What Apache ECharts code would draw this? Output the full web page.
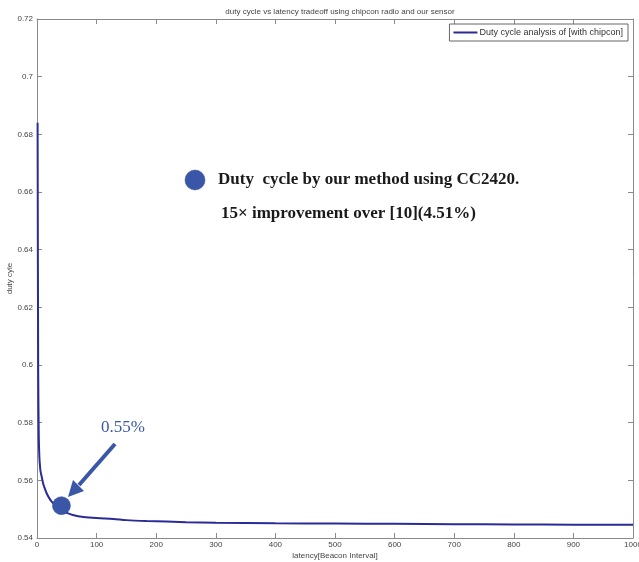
<!DOCTYPE html>
<html>
<head>
<meta charset="utf-8">
<script src="https://cdn.jsdelivr.net/npm/echarts@6/dist/echarts.min.js"></script>
<style>
html,body{margin:0;padding:0;background:#fff;}
#main{width:639px;height:562px;}
</style>
</head>
<body>
<div id="main"></div>
<script>
// ---- data ----
var latency = [1, 2, 3, 4, 5, 6, 8, 10, 12, 16, 20, 25, 30, 40, 50, 60, 78, 100, 128, 150, 184, 250, 300, 400, 500, 600, 700, 800, 900, 1000];
var dutyCycle = [0.684, 0.598, 0.575, 0.568, 0.565, 0.563, 0.5612, 0.5592, 0.5578, 0.5556, 0.554, 0.5525, 0.5514, 0.5496, 0.5487, 0.548, 0.5473, 0.5469, 0.5466, 0.5462, 0.5459, 0.5455, 0.5453, 0.5451, 0.545, 0.5449, 0.5448, 0.5447, 0.5446, 0.5446];
var markerPoint = [41, 0.5512];
var xTicks = [0, 100, 200, 300, 400, 500, 600, 700, 800, 900, 1000];
var yTicks = ['0.54', '0.56', '0.58', '0.6', '0.62', '0.64', '0.66', '0.68', '0.7', '0.72'];
var seriesName = 'Duty cycle analysis of [with chipcon]';
var titleText = 'duty cycle vs latency tradeoff using chipcon radio and our sensor';
var xName = 'latency[Beacon Interval]';
var yName = 'duty cyle';
var noteLine1 = 'Duty  cycle by our method using CC2420.';
var noteLine2 = '15\u00d7 improvement over [10](4.51%)';
var markLabel = '0.55%';

var lineData = latency.map(function (x, i) { return [x, dutyCycle[i]]; });

var smallFont = '"Liberation Sans Narrow", "Liberation Sans", Arial, sans-serif';
var serif = '"Liberation Serif", "DejaVu Serif", serif';
var axisGray = '#8a8a8a';
var txtGray = '#444';
var annBlue = '#3a57a7';

function yFmt(v) { return parseFloat(v.toFixed(2)).toString(); }

var chart = echarts.init(document.getElementById('main'), null, {renderer: 'canvas'});

var grid = {left: 37, top: 19, width: 596, height: 519, containLabel: false, outerBoundsMode: 'none'};

var option = {
  animation: false,
  backgroundColor: '#fff',
  title: {
    text: titleText,
    left: 335, top: 3, textAlign: 'center',
    textStyle: {fontFamily: smallFont, fontSize: 8, fontWeight: 'normal', color: txtGray}
  },
  legend: {
    data: [seriesName],
    right: 11, top: 24,
    padding: [4, 5, 4, 4],
    itemWidth: 24, itemHeight: 2, itemGap: 0,
    icon: 'rect',
    borderColor: '#666', borderWidth: 1,
    backgroundColor: '#fff',
    textStyle: {fontFamily: smallFont, fontSize: 9, color: '#333', padding: [0, 0, 0, -3]}
  },
  grid: grid,
  xAxis: [{
    type: 'value', min: 0, max: 1000, interval: 100,
    name: xName, nameLocation: 'middle', nameGap: 14, nameMoveOverlap: false,
    nameTextStyle: {fontFamily: smallFont, fontSize: 8, color: txtGray},
    axisLine: {onZero: false, lineStyle: {color: axisGray, width: 1}},
    axisTick: {inside: true, length: 5, lineStyle: {color: axisGray}},
    axisLabel: {fontFamily: smallFont, fontSize: 8, color: txtGray, margin: 3,
      formatter: function (v) { return xTicks.indexOf(v) >= 0 ? String(v) : ''; }},
    splitLine: {show: false}
  }, {
    type: 'value', min: 0, max: 1000, interval: 100, position: 'top',
    axisLine: {onZero: false, lineStyle: {color: axisGray, width: 1}},
    axisTick: {inside: true, length: 5, lineStyle: {color: axisGray}},
    axisLabel: {show: false}, splitLine: {show: false}
  }],
  yAxis: [{
    type: 'value', min: 0.54, max: 0.72, interval: 0.02,
    name: yName, nameLocation: 'middle', nameGap: 23, nameRotate: 90, nameMoveOverlap: false,
    nameTextStyle: {fontFamily: smallFont, fontSize: 8, color: txtGray},
    axisLine: {onZero: false, lineStyle: {color: axisGray, width: 1}},
    axisTick: {inside: true, length: 5, lineStyle: {color: axisGray}},
    axisLabel: {fontFamily: smallFont, fontSize: 8, color: txtGray, margin: 4,
      formatter: function (v) { var s = yFmt(v); return yTicks.indexOf(s) >= 0 ? s : ''; }},
    splitLine: {show: false}
  }, {
    type: 'value', min: 0.54, max: 0.72, interval: 0.02, position: 'right',
    axisLine: {onZero: false, lineStyle: {color: axisGray, width: 1}},
    axisTick: {inside: true, length: 5, lineStyle: {color: axisGray}},
    axisLabel: {show: false}, splitLine: {show: false}
  }],
  series: [{
    name: seriesName,
    type: 'line',
    data: lineData,
    smooth: 0.3,
    showSymbol: false,
    symbol: 'none',
    color: '#2b2b98',
    lineStyle: {color: '#2b2b98', width: 2},
    z: 3
  }, {
    name: 'marker',
    type: 'scatter',
    data: [markerPoint],
    symbol: 'circle',
    symbolSize: 18,
    itemStyle: {color: annBlue, opacity: 1, borderColor: '#2e4690', borderWidth: 0.5},
    z: 5
  }],
  graphic: [
    {type: 'circle', shape: {cx: 195, cy: 180, r: 10}, style: {fill: annBlue, stroke: '#2e4690', lineWidth: 0.5}, z: 10},
    {type: 'text', left: 218, top: 171, style: {text: noteLine1, font: 'bold 17px ' + serif, fill: '#1a1a1a'}, z: 10},
    {type: 'text', left: 221, top: 205, style: {text: noteLine2, font: 'bold 17px ' + serif, fill: '#1a1a1a'}, z: 10},
    {type: 'text', left: 101, top: 419, style: {text: markLabel, font: '17px ' + serif, fill: annBlue}, z: 10},
    {type: 'line', shape: {x1: 115, y1: 444, x2: 79, y2: 485}, style: {stroke: annBlue, lineWidth: 4}, z: 10},
    {type: 'polygon', shape: {points: [[68, 497], [84, 491], [73, 480]]}, style: {fill: annBlue}, z: 10}
  ]
};
chart.setOption(option);
</script>
</body>
</html>
